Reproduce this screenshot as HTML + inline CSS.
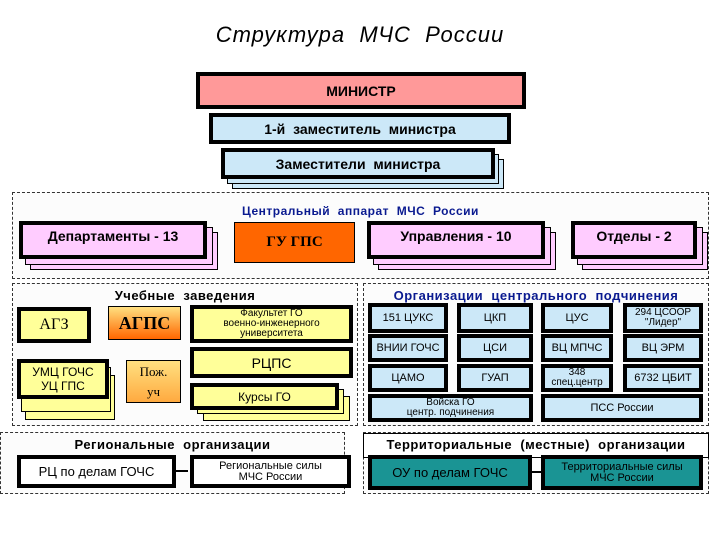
<!DOCTYPE html><html><head><meta charset="utf-8"><style>
body{margin:0;width:720px;height:540px;background:#fff;position:relative;font-family:"Liberation Sans",sans-serif;overflow:hidden}
div{position:absolute;box-sizing:border-box}
.b{border:4px solid #000;display:flex;align-items:center;justify-content:center;text-align:center;line-height:1}
.s{border:1px solid #000}
.d{border:1px dashed #333;background:#fcfcfc}
.t{font-weight:bold;text-align:center;font-size:13px;letter-spacing:.5px}
.y{background:#ffff99}.p{background:#ffccff}.c{background:#cce8f8}
.g{background:#1a9494}
</style></head><body>
<div style="left:0;top:22px;width:720px;text-align:center;font-style:italic;font-size:22px;letter-spacing:1px">Структура&nbsp; МЧС&nbsp; России</div>
<div class="b" style="left:196px;top:72px;width:330px;height:37px;background:#f99;font-weight:bold;font-size:14px">МИНИСТР</div>
<div class="b c" style="left:209px;top:113px;width:302px;height:31px;font-weight:bold;font-size:14px">1-й&nbsp; заместитель&nbsp; министра</div>
<div class="s c" style="left:232px;top:159px;width:272px;height:30px"></div>
<div class="s c" style="left:227px;top:154px;width:272px;height:30px"></div>
<div class="b c" style="left:221px;top:148px;width:274px;height:31px;font-weight:bold;font-size:14px">Заместители&nbsp; министра</div>
<div class="d" style="left:12px;top:192px;width:697px;height:87px"></div>
<div class="t" style="left:12px;top:204px;width:697px;color:#0a1a90;font-size:12px">Центральный&nbsp; аппарат&nbsp; МЧС&nbsp; России</div>
<div class="s p" style="left:30px;top:232px;width:188px;height:38px"></div><div class="s p" style="left:25px;top:227px;width:188px;height:38px"></div>
<div class="b p" style="left:19px;top:221px;width:188px;height:38px;align-items:flex-start;padding-top:4px;font-weight:bold;font-size:14px">Департаменты - 13</div>
<div class="s" style="left:234px;top:222px;width:121px;height:41px;background:#f60;display:flex;align-items:center;justify-content:center;font-family:'Liberation Serif',serif;font-weight:bold;font-size:15px">ГУ ГПС</div>
<div class="s p" style="left:378px;top:232px;width:178px;height:38px"></div><div class="s p" style="left:373px;top:227px;width:178px;height:38px"></div>
<div class="b p" style="left:367px;top:221px;width:178px;height:38px;align-items:flex-start;padding-top:4px;font-weight:bold;font-size:14px">Управления - 10</div>
<div class="s p" style="left:582px;top:232px;width:126px;height:38px"></div><div class="s p" style="left:577px;top:227px;width:126px;height:38px"></div>
<div class="b p" style="left:571px;top:221px;width:126px;height:38px;align-items:flex-start;padding-top:4px;font-weight:bold;font-size:14px">Отделы - 2</div>

<div class="d" style="left:12px;top:283px;width:346px;height:143px"></div>
<div class="t" style="left:12px;top:288px;width:346px">Учебные&nbsp; заведения</div>
<div class="b y" style="left:17px;top:307px;width:74px;height:36px;font-size:16px;font-family:'Liberation Serif',serif">АГЗ</div>
<div class="s" style="left:108px;top:306px;width:73px;height:34px;background:linear-gradient(#ffe080,#f60);display:flex;align-items:center;justify-content:center;font-family:'Liberation Serif',serif;font-size:18px;font-weight:bold">АГПС</div>
<div class="b y" style="left:190px;top:305px;width:163px;height:38px;font-size:10px">Факультет ГО<br>военно-инженерного<br>университета</div>
<div class="s y" style="left:25px;top:375px;width:90px;height:45px"></div><div class="s y" style="left:21px;top:367px;width:90px;height:45px"></div>
<div class="b y" style="left:17px;top:359px;width:92px;height:40px;font-size:12px;line-height:1.2">УМЦ ГОЧС<br>УЦ ГПС</div>
<div class="s" style="left:126px;top:360px;width:55px;height:43px;background:linear-gradient(#ffe080,#ffaa40);display:flex;align-items:center;justify-content:center;text-align:center;font-family:'Liberation Serif',serif;font-size:13px;line-height:1.5">Пож.<br>уч</div>
<div class="b y" style="left:190px;top:347px;width:163px;height:31px;font-size:14px">РЦПС</div>
<div class="s y" style="left:203px;top:396px;width:147px;height:25px"></div><div class="s y" style="left:197px;top:389px;width:147px;height:25px"></div>
<div class="b y" style="left:190px;top:383px;width:149px;height:27px;font-size:12px">Курсы ГО</div>

<div class="d" style="left:0;top:432px;width:345px;height:62px"></div>
<div class="t" style="left:0;top:437px;width:345px">Региональные&nbsp; организации</div>
<div class="b" style="left:17px;top:455px;width:159px;height:33px;background:#fff;font-size:13px">РЦ по делам ГОЧС</div>
<div style="left:176px;top:470px;width:12px;height:2px;background:#000"></div>
<div class="b" style="left:190px;top:455px;width:161px;height:33px;background:#fff;font-size:11px">Региональные силы<br>МЧС России</div>

<div class="d" style="left:363px;top:283px;width:346px;height:143px"></div>
<div class="t" style="left:363px;top:288px;width:346px;color:#0a1a90">Организации&nbsp; центрального&nbsp; подчинения</div>
<div class="b c" style="left:368px;top:303px;width:80px;height:30px;font-size:11px">151 ЦУКС</div>
<div class="b c" style="left:457px;top:303px;width:76px;height:30px;font-size:11px">ЦКП</div>
<div class="b c" style="left:541px;top:303px;width:72px;height:30px;font-size:11px">ЦУС</div>
<div class="b c" style="left:623px;top:303px;width:80px;height:30px;font-size:10px">294 ЦСООР<br>"Лидер"</div>
<div class="b c" style="left:368px;top:334px;width:80px;height:28px;font-size:11px">ВНИИ ГОЧС</div>
<div class="b c" style="left:457px;top:334px;width:76px;height:28px;font-size:11px">ЦСИ</div>
<div class="b c" style="left:541px;top:334px;width:72px;height:28px;font-size:11px">ВЦ МПЧС</div>
<div class="b c" style="left:623px;top:334px;width:80px;height:28px;font-size:11px">ВЦ ЭРМ</div>
<div class="b c" style="left:368px;top:364px;width:80px;height:28px;font-size:11px">ЦАМО</div>
<div class="b c" style="left:457px;top:364px;width:76px;height:28px;font-size:11px">ГУАП</div>
<div class="b c" style="left:541px;top:364px;width:72px;height:28px;font-size:10px">348<br>спец.центр</div>
<div class="b c" style="left:623px;top:364px;width:80px;height:28px;font-size:11px">6732 ЦБИТ</div>
<div class="b c" style="left:368px;top:394px;width:165px;height:28px;font-size:10px">Войска ГО<br>центр. подчинения</div>
<div class="b c" style="left:541px;top:394px;width:162px;height:28px;font-size:11px">ПСС России</div>

<div class="d" style="left:363px;top:432px;width:346px;height:62px"></div>
<div style="left:363px;top:433px;width:346px;height:25px;border:1px solid #000;background:#fff"></div>
<div class="t" style="left:363px;top:437px;width:346px">Территориальные&nbsp; (местные)&nbsp; организации</div>
<div class="b g" style="left:368px;top:455px;width:164px;height:35px;font-size:13px">ОУ по делам ГОЧС</div>
<div style="left:532px;top:471px;width:10px;height:2px;background:#000"></div>
<div class="b g" style="left:541px;top:455px;width:162px;height:35px;font-size:11px">Территориальные силы<br>МЧС России</div>
</body></html>
